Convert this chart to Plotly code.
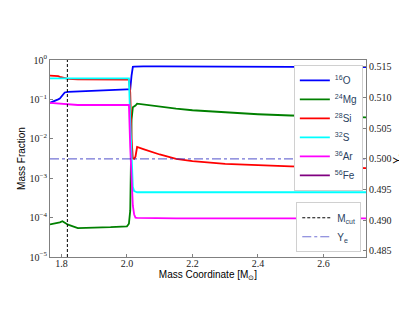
import plotly.graph_objects as go

mass = [1.765, 1.78, 1.79, 1.795, 1.803, 1.81, 1.82, 1.85, 1.90, 1.95, 2.00, 2.004, 2.006,
        2.010, 2.014, 2.018, 2.022, 2.026, 2.031, 2.05, 2.10, 2.15, 2.20, 2.30, 2.40, 2.50, 2.60, 2.73]

o16 = [0.082, 0.090, 0.100, 0.105, 0.125, 0.150, 0.155, 0.160, 0.167, 0.174, 0.180, 0.180, 0.180,
       0.180, 0.40, 0.67, 0.68, 0.685, 0.69, 0.69, 0.685, 0.68, 0.68, 0.675, 0.67, 0.67, 0.665, 0.66]
mg24 = [6.7e-5, 7.0e-5, 7.3e-5, 7.6e-5, 8.1e-5, 7.5e-5, 6.6e-5, 5.4e-5, 5.5e-5, 5.7e-5, 6.0e-5, 6.5e-5, 7.0e-5,
        1.5e-4, 0.03, 0.063, 0.066, 0.070, 0.078, 0.074, 0.065, 0.058, 0.053, 0.047, 0.042, 0.039, 0.037, 0.035]
si28 = [0.40, 0.40, 0.39, 0.375, 0.355, 0.34, 0.33, 0.325, 0.322, 0.32, 0.318, 0.318, 0.318,
        0.15, 0.01, 0.0032, 0.0031, 0.0035, 0.0062, 0.0055, 0.0040, 0.0031, 0.0027, 0.0023, 0.0021, 0.0020, 0.0019, 0.0018]
s32 = [0.342, 0.342, 0.342, 0.342, 0.342, 0.342, 0.342, 0.342, 0.342, 0.342, 0.342, 0.342, 0.342,
       0.03, 0.002, 0.0006, 0.00047, 0.00045, 0.00044, 0.00044, 0.00044, 0.00044, 0.00044, 0.00044, 0.00044, 0.00044, 0.00044, 0.00044]
ar36 = [0.082, 0.080, 0.078, 0.077, 0.076, 0.075, 0.073, 0.072, 0.072, 0.072, 0.072, 0.072, 0.072,
        0.006, 0.0008, 0.0002, 0.00012, 0.0001, 9.8e-5, 9.7e-5, 9.6e-5, 9.6e-5, 9.6e-5, 9.6e-5, 9.6e-5, 9.6e-5, 9.6e-5, 9.6e-5]
fe56 = [1e-7] * len(mass)
ye = [0.500] * len(mass)

m_cut = 1.818

species = [
    ("<sup>16</sup>O", o16, "#0000ff"),
    ("<sup>24</sup>Mg", mg24, "#008000"),
    ("<sup>28</sup>Si", si28, "#ff0000"),
    ("<sup>32</sup>S", s32, "#00ffff"),
    ("<sup>36</sup>Ar", ar36, "#ff00ff"),
    ("<sup>56</sup>Fe", fe56, "#800080"),
]

fig = go.Figure()
for name, vals, col in species:
    fig.add_trace(go.Scatter(x=mass, y=vals, mode="lines", name=name,
                             line=dict(color=col, width=1.8), legend="legend"))

fig.add_trace(go.Scatter(x=[m_cut, m_cut], y=[1e-5, 1], mode="lines", name="M<sub>cut</sub>",
                         line=dict(color="black", width=1, dash="3px,2px"), legend="legend2"))
fig.add_trace(go.Scatter(x=mass, y=ye, mode="lines", name="Y<sub>e</sub>", yaxis="y2",
                         line=dict(color="rgba(40,40,190,0.65)", width=1.2, dash="dashdot"),
                         legend="legend2"))

tickfont = dict(family="Liberation Serif", size=10, color="#222")
axis_common = dict(showgrid=False, zeroline=False, showline=True, linecolor="#808080",
                   ticks="inside", ticklen=3, tickcolor="#808080", tickfont=tickfont,
                   automargin=False)
fig.update_layout(
    width=399, height=307,
    margin=dict(l=42, r=41, t=52, b=58, autoexpand=False),
    paper_bgcolor="white", plot_bgcolor="white",
    showlegend=True,
    xaxis=dict(range=[1.765, 2.73], tickvals=[1.8, 2.0, 2.2, 2.4, 2.6],
               ticktext=["1.8", "2.0", "2.2", "2.4", "2.6"], mirror=True,
               ticklabelstandoff=-3,
               title=dict(text="Mass Coordinate [M<sub>⊙</sub>]", standoff=0,
                          font=dict(family="Liberation Sans", size=10, color="black")),
               **axis_common),
    yaxis=dict(type="log", range=[-5, 0], tickvals=[1, 0.1, 0.01, 0.001, 1e-4, 1e-5],
               ticktext=["10<sup>0</sup>", "10<sup>−1</sup>", "10<sup>−2</sup>", "10<sup>−3</sup>",
                         "10<sup>−4</sup>", "10<sup>−5</sup>"],
               title=dict(text="Mass Fraction", standoff=2,
                          font=dict(family="Liberation Sans", size=10, color="black")),
               **axis_common),
    yaxis2=dict(overlaying="y", side="right", range=[0.484, 0.5161],
                tickvals=[0.485, 0.49, 0.495, 0.5, 0.505, 0.51, 0.515],
                ticktext=["0.485", "0.490", "0.495", "0.500", "0.505", "0.510", "0.515"],
                title=dict(text="Y<sub>e</sub>", standoff=0,
                           font=dict(family="Liberation Sans", size=10, color="black")),
                **axis_common),
    legend=dict(x=0.99, y=0.975, xanchor="right", yanchor="top", bgcolor="white",
                bordercolor="#d0d0d0", borderwidth=1, font=dict(family="Liberation Sans", size=10),
                itemwidth=30, tracegroupgap=0),
    legend2=dict(x=0.985, y=0.024, xanchor="right", yanchor="bottom", bgcolor="white",
                 bordercolor="#d0d0d0", borderwidth=1, font=dict(family="Liberation Sans", size=10),
                 itemwidth=30),
)

fig.write_html("out.html")
